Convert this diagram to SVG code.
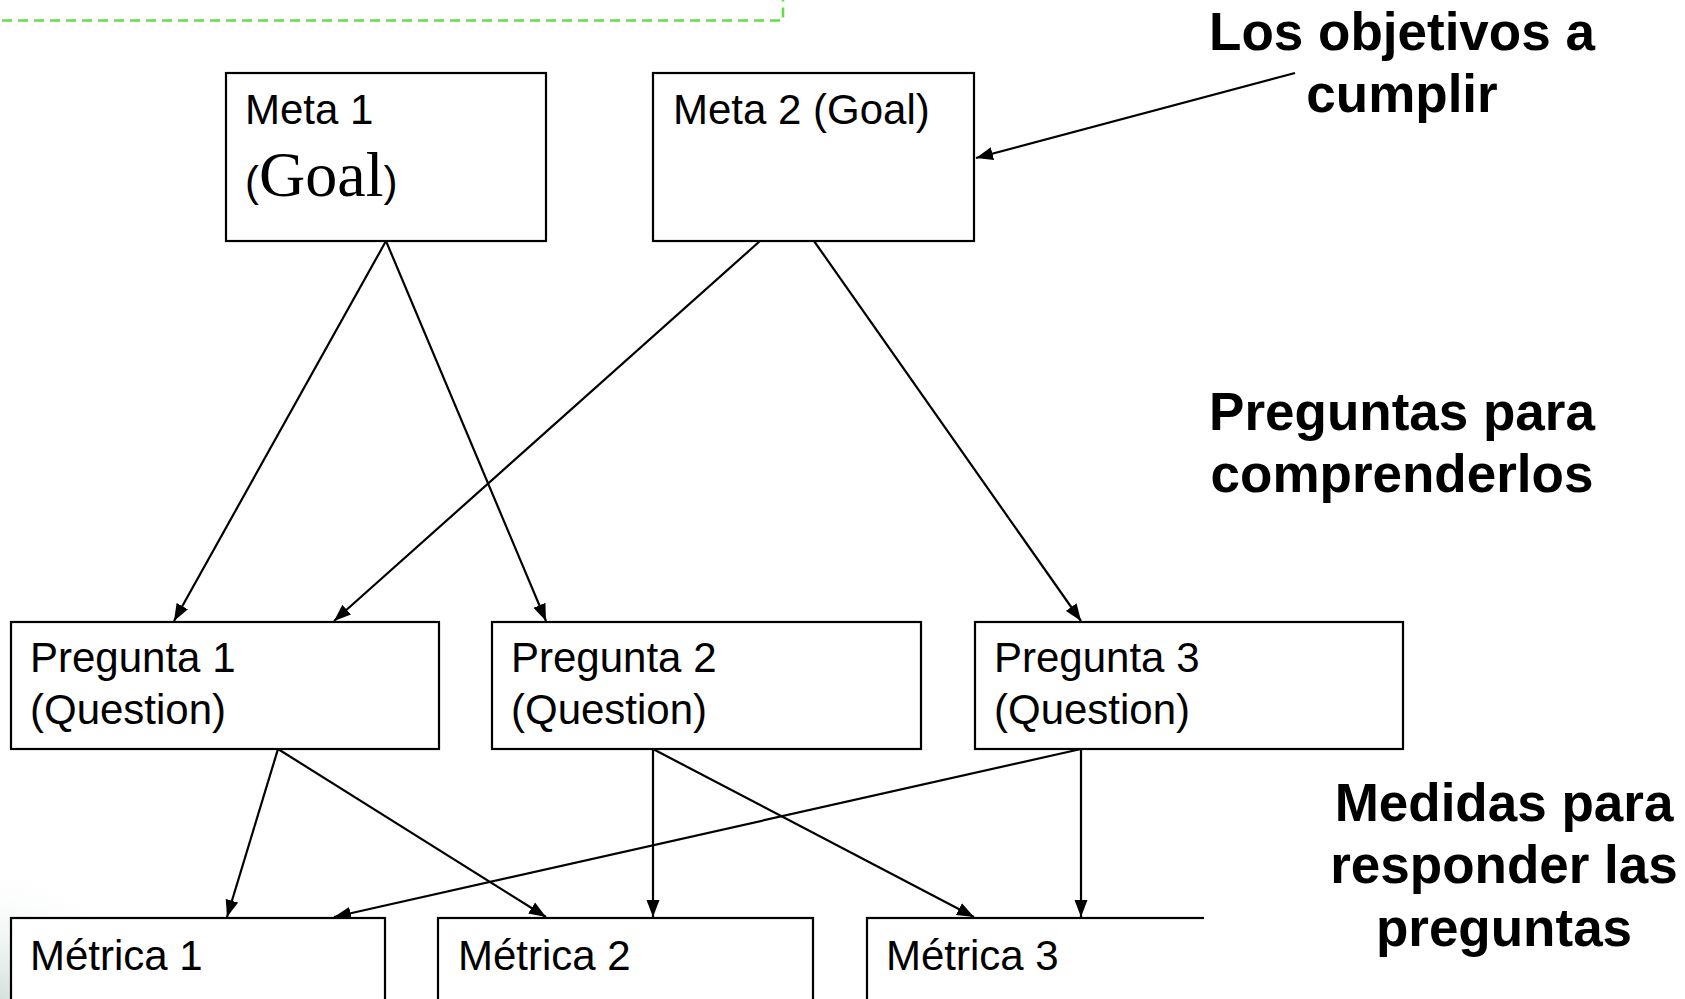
<svg xmlns="http://www.w3.org/2000/svg" width="1685" height="999" viewBox="0 0 1685 999">
<style>
.box{fill:#fff;stroke:#000;stroke-width:2.2}
.t{font-family:"Liberation Sans",Arial,sans-serif;font-size:42px;fill:#000}
.ts{font-family:"Liberation Serif","Times New Roman",serif;font-size:64px;fill:#000}
.lbl{font-family:"Liberation Sans",Arial,sans-serif;font-size:53px;font-weight:bold;fill:#000;text-anchor:middle}
.c{stroke:#000;stroke-width:2.2;fill:none;marker-end:url(#ah)}
</style>
<defs>
<marker id="ah" markerUnits="userSpaceOnUse" markerWidth="18" markerHeight="14" refX="17" refY="7" orient="auto">
<path d="M0,0.5 L17,7 L0,13.5 z" fill="#000"/>
</marker>
<radialGradient id="corner" cx="0" cy="1" r="1">
<stop offset="0" stop-color="#d5e0dd"/>
<stop offset="1" stop-color="#ffffff" stop-opacity="0"/>
</radialGradient>
</defs>
<rect width="1685" height="999" fill="#fff"/>
<rect x="0" y="860" width="140" height="139" fill="url(#corner)"/>
<g id="title-frame">
<path d="M2,20.5 H783 V0" fill="none" stroke="#66dd44" stroke-width="2.6" stroke-dasharray="10,6"/>
</g>
<g id="connectors">
<line class="c" x1="386" y1="241" x2="174" y2="621"/>
<line class="c" x1="386" y1="241" x2="546" y2="621"/>
<line class="c" x1="760" y1="241" x2="334" y2="621"/>
<line class="c" x1="814" y1="241" x2="1081" y2="621"/>
<line class="c" x1="1295" y1="73" x2="976" y2="158"/>
<line class="c" x1="278" y1="749" x2="227" y2="917"/>
<line class="c" x1="278" y1="749" x2="546" y2="917"/>
<line class="c" x1="653" y1="749" x2="653" y2="917"/>
<line class="c" x1="653" y1="749" x2="974" y2="917"/>
<line class="c" x1="1081" y1="749" x2="334" y2="917"/>
<line class="c" x1="1081" y1="749" x2="1081" y2="917"/>
</g>
<g id="meta1">
<rect class="box" x="226" y="73" width="320" height="168"/>
<text x="245" y="124" class="t">Meta 1</text>
<text x="245" y="196" class="t">(<tspan class="ts">Goal</tspan>)</text>
</g>
<g id="meta2">
<rect class="box" x="653" y="73" width="321" height="168"/>
<text x="673" y="124" class="t">Meta 2 (Goal)</text>
</g>
<g id="pregunta1">
<rect class="box" x="11" y="622" width="428" height="127"/>
<text x="30" y="672" class="t">Pregunta 1</text>
<text x="30" y="724" class="t">(Question)</text>
</g>
<g id="pregunta2">
<rect class="box" x="492" y="622" width="429" height="127"/>
<text x="511" y="672" class="t">Pregunta 2</text>
<text x="511" y="724" class="t">(Question)</text>
</g>
<g id="pregunta3">
<rect class="box" x="975" y="622" width="428" height="127"/>
<text x="994" y="672" class="t">Pregunta 3</text>
<text x="994" y="724" class="t">(Question)</text>
</g>
<g id="metrica1">
<rect class="box" x="11" y="918" width="374" height="120"/>
<text x="30" y="970" class="t">Métrica 1</text>
</g>
<g id="metrica2">
<rect class="box" x="438" y="918" width="375" height="120"/>
<text x="458" y="970" class="t">Métrica 2</text>
</g>
<g id="metrica3">
<rect class="box" x="867" y="918" width="374" height="120"/>
<text x="886" y="970" class="t">Métrica 3</text>
</g>
<g id="label-objetivos">
<text x="1402" y="50" class="lbl">Los objetivos a</text>
<text x="1402" y="112" class="lbl">cumplir</text>
</g>
<g id="label-preguntas">
<text x="1402" y="430" class="lbl">Preguntas para</text>
<text x="1402" y="492" class="lbl">comprenderlos</text>
</g>
<g id="label-medidas">
<rect x="1204" y="770" width="481" height="229" fill="#fff"/>
<text x="1504" y="821" class="lbl">Medidas para</text>
<text x="1504" y="883" class="lbl">responder las</text>
<text x="1504" y="946" class="lbl">preguntas</text>
</g>
</svg>
